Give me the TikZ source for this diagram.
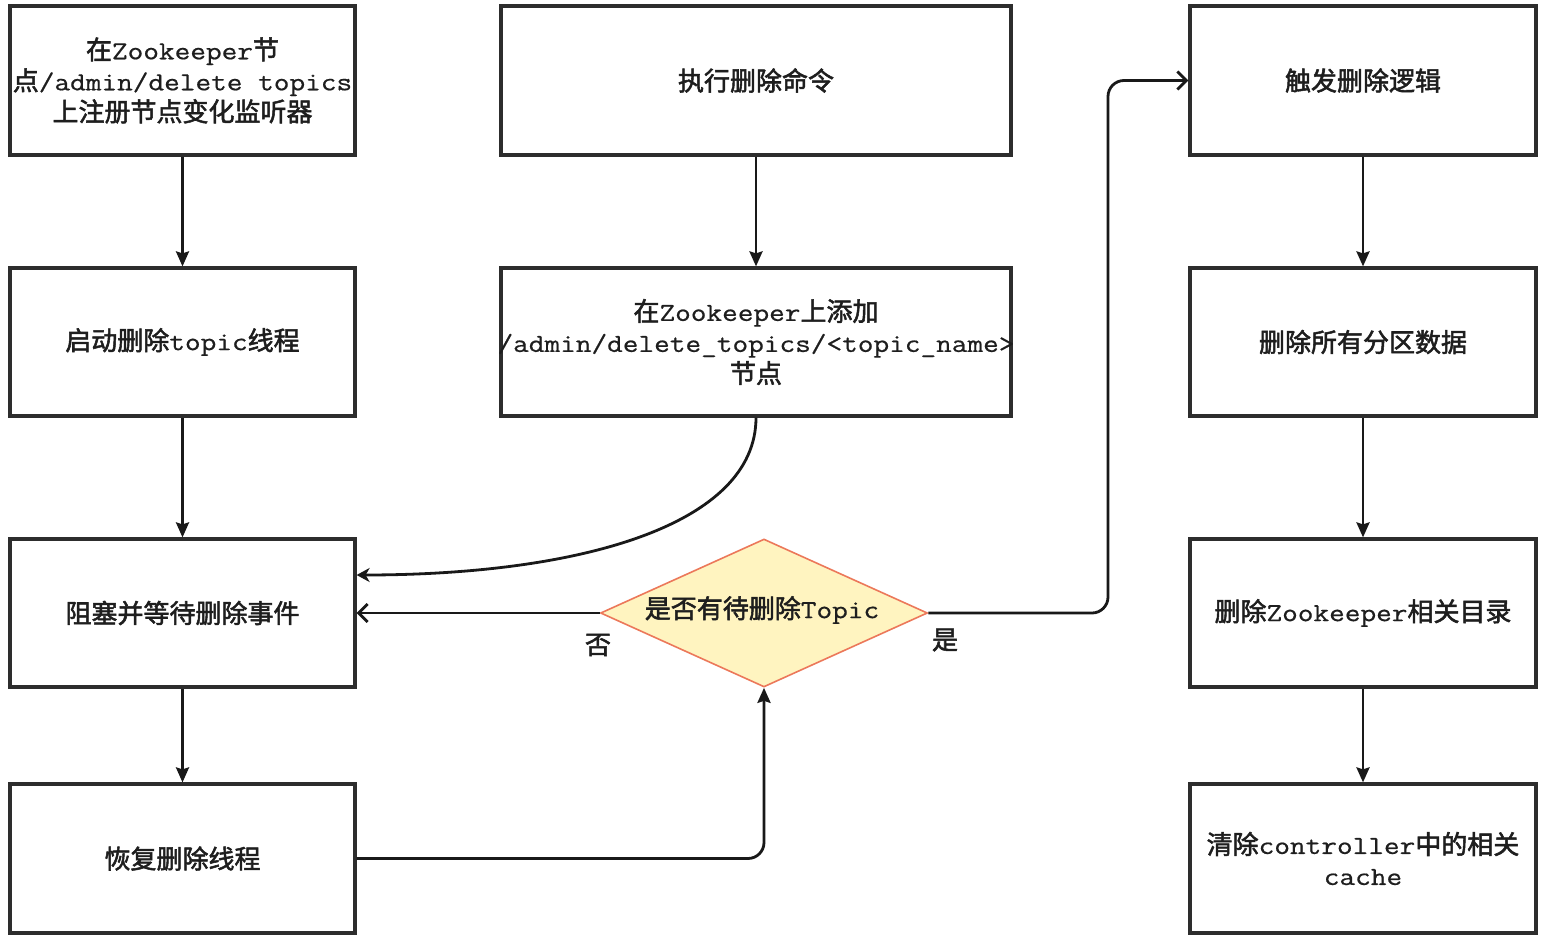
\documentclass[tikz,border=0pt]{standalone}
\usepackage{fontspec}
\usetikzlibrary{arrows.meta,shapes.geometric,calc}
\setmainfont{Latin Modern Mono}[FakeStretch=1.17,FakeBold=0.6]
\newfontfamily\cjkfont[FakeBold=2]{Noto Sans CJK SC}
\newcommand{\zh}[1]{{\cjkfont #1}}
\newcommand{\wideline}[1]{\makebox[0pt][c]{#1}}
\definecolor{boxline}{RGB}{45,45,45}
\definecolor{diafill}{RGB}{255,244,192}
\definecolor{diadraw}{RGB}{236,120,90}
\definecolor{txt}{RGB}{30,30,30}
\tikzset{
  stepbox/.style={draw=boxline, line width=3.2pt, fill=white, align=center, inner sep=0pt, text=txt, font=\fontsize{26}{31}\selectfont},
  dia/.style={diamond, draw=diadraw, line width=1.6pt, fill=diafill, inner sep=0pt},
  conn/.style={draw=black!90, line width=2.8pt},
  farrow/.style={conn, -{Stealth[length=15pt,width=13pt,inset=2pt]}},
  oarrow/.style={conn, -{Straight Barb[length=9pt,width=18pt]}},
  lbl/.style={text=txt, font=\fontsize{26}{31}\selectfont, inner sep=0pt},
}
\begin{document}
\begin{tikzpicture}[x=1pt,y=-1pt]
\useasboundingbox (0,0) rectangle (1548,940);
\fill[white] (0,0) rectangle (1548,940);
% left column
\node[stepbox, minimum width=345pt, minimum height=149pt] (L1) at (182.5,80.5)
  {\zh{在}Zookeeper\zh{节}\\\wideline{\zh{点}/admin/delete topics}\\\zh{上注册节点变化监听器}};
\node[stepbox, minimum width=345pt, minimum height=148pt] (L2) at (182.5,342)
  {\zh{启动删除}topic\zh{线程}};
\node[stepbox, minimum width=345pt, minimum height=148pt] (L3) at (182.5,613)
  {\zh{阻塞并等待删除事件}};
\node[stepbox, minimum width=345pt, minimum height=149pt] (L4) at (182.5,858.5)
  {\zh{恢复删除线程}};
% middle column
\node[stepbox, minimum width=510pt, minimum height=149pt] (M1) at (756,80.5)
  {\zh{执行删除命令}};
\node[stepbox, minimum width=510pt, minimum height=148pt] (M2) at (756,342)
  {\zh{在}Zookeeper\zh{上添加}\\\wideline{/admin/delete\_topics/<topic\_name>}\\\zh{节点}};
% right column
\node[stepbox, minimum width=346pt, minimum height=149pt] (R1) at (1363,80.5)
  {\zh{触发删除逻辑}};
\node[stepbox, minimum width=346pt, minimum height=148pt] (R2) at (1363,342)
  {\zh{删除所有分区数据}};
\node[stepbox, minimum width=346pt, minimum height=148pt] (R3) at (1363,613)
  {\zh{删除}Zookeeper\zh{相关目录}};
\node[stepbox, minimum width=346pt, minimum height=149pt] (R4) at (1363,858.5)
  {\zh{清除}controller\zh{中的相关}\\cache};
% decision
\node[dia, minimum width=327pt, minimum height=148pt] (D) at (764,613) {};
\node[lbl] (Dt) at (762,610) {\zh{是否有待删除}Topic};
% connectors
\draw[farrow] (L1) -- (L2);
\draw[farrow] (L2) -- (L3);
\draw[farrow] (L3) -- (L4);
\draw[farrow] (M1) -- (M2);
\draw[farrow] (R1) -- (R2);
\draw[farrow] (R2) -- (R3);
\draw[farrow] (R3) -- (R4);
\draw[farrow, rounded corners=16pt] (L4.east) -| (D.south);
\draw[oarrow] (D.west) -- (L3.east);
\coordinate (bend) at (1108,613);
\draw[oarrow, rounded corners=16pt] (D.east) -- (bend) |- (R1.west);
\draw[conn, -{Stealth[length=13pt,width=14pt,inset=4pt]}] (M2.south) .. controls (756,525) and (580,575) .. ([yshift=38pt]L3.east);
% labels
\node[lbl] (no) at (598,645) {\zh{否}};
\node[lbl] (yes) at (945,640) {\zh{是}};
\end{tikzpicture}
\end{document}
